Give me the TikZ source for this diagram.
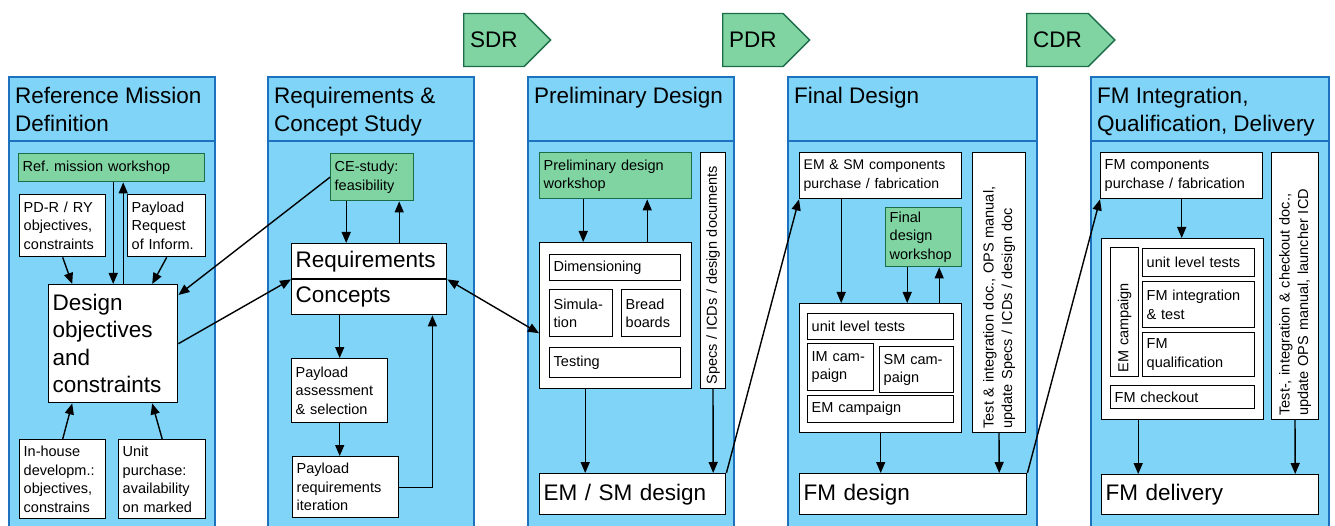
\documentclass[tikz,border=0pt]{standalone}
\usepackage{fontspec}
\usepackage{xcolor}
\setmainfont{Liberation Sans}
\usetikzlibrary{arrows.meta,shapes.symbols}
\definecolor{phasefill}{RGB}{128,212,247}
\definecolor{phaseline}{RGB}{28,114,190}
\definecolor{wsfill}{RGB}{128,212,162}
\definecolor{wsline}{RGB}{28,108,72}
\newcommand{\headfont}{\fontsize{22.5}{27.5}\selectfont}
\newcommand{\boxfont}{\fontsize{14.5}{18.5}\selectfont}

\begin{document}
\begin{tikzpicture}[x=1pt, y=-1pt,
  phase/.style={draw=phaseline, fill=phasefill, line width=1.5pt},
  phasehead/.style={anchor=north west, align=left, font=\headfont, inner xsep=6pt, inner ysep=10pt},
  box/.style 2 args={draw, fill=white, line width=1.4pt, anchor=north west, align=left, font=\boxfont, inner xsep=4pt, inner ysep=1pt, text width=#1, minimum height=#2},
  wsbox/.style 2 args={box={#1}{#2}, draw=wsline, fill=wsfill},
  bigbox/.style 2 args={box={#1}{#2}, font=\headfont},
  holder/.style 2 args={draw, fill=white, line width=1.4pt, anchor=north west, inner sep=0pt, minimum width=#1, minimum height=#2},
  vbox/.style 2 args={draw, fill=white, line width=1.4pt, rotate=90, align=left, font=\boxfont, inner xsep=4pt, inner ysep=1pt, text width=#1, minimum height=#2},
  gate/.style={signal, signal to=east, signal pointer angle=90, draw=wsline, fill=wsfill, line width=1.4pt, font=\headfont, anchor=west, inner xsep=6.5pt, minimum height=53pt},
  arr/.style={-{Triangle[length=11pt,width=9pt]}, line width=1.4pt},
  darr/.style={{Triangle[length=11pt,width=9pt]}-{Triangle[length=11pt,width=9pt]}, line width=1.4pt}]
\useasboundingbox (0,0) rectangle (1335,526);

\foreach \xa/\xb in {9/215, 268/474, 528/734, 788/1037, 1091/1329} {
  \filldraw[phase] (\xa,528) -- (\xa,77) -- (\xb,77) -- (\xb,528);
  \draw[phaseline, line width=1.5pt] (\xa,141) -- (\xb,141);
}
\foreach \g/\gx in {SDR/463, PDR/722, CDR/1026}
  \node[gate] (\g) at (\gx,40) {\g};

\node[phasehead] (h1) at (9,77) {Reference Mission\\Definition};
\node[wsbox={178pt}{28pt}] (refws) at (18,153) {Ref.\ mission workshop};
\node[box={78pt}{62pt}] (pdr) at (19,194) {PD-R / RY\\objectives,\\constraints};
\node[box={70pt}{62pt}] (plri) at (127,194) {Payload\\Request\\of Inform.};
\node[bigbox={121pt}{118pt}] (design) at (48,284) {Design\\objectives\\and\\constraints};
\node[box={78pt}{79pt}] (inhouse) at (19,439) {In-house\\developm.:\\objectives,\\constrains};
\node[box={79pt}{79pt}] (unitp) at (118,439) {Unit\\purchase:\\availability\\on marked};

\node[phasehead] (h2) at (268,77) {Requirements \&\\Concept Study};
\node[wsbox={75pt}{47pt}] (ce) at (330,153) {CE-study:\\feasibility};
\node[bigbox={147pt}{35pt}] (req) at (291,243) {Requirements};
\node[bigbox={147pt}{35pt}] (conc) at (291,279) {Concepts};
\node[box={88pt}{64pt}] (passess) at (291,358) {Payload\\assessment\\\& selection};
\node[box={98pt}{61pt}] (preqit) at (292,456) {Payload\\requirements\\iteration};

\node[phasehead] (h3) at (528,77) {Preliminary Design};
\node[wsbox={144pt}{46pt}] (pdws) at (539,152) {Preliminary design\\workshop};
\node[vbox={228pt}{25pt}] (specs) at (713,270.5) {Specs / ICDs / design documents};
\node[holder={152pt}{146pt}] (pdbox) at (539,242) {};
\node[box={123pt}{26pt}] (dim) at (549,254) {Dimensioning};
\node[box={55pt}{47pt}] (sim) at (549,289) {Simula-\\tion};
\node[box={51pt}{47pt}] (bread) at (621,289) {Bread\\boards};
\node[box={123pt}{30pt}] (test) at (549,347) {Testing};
\node[bigbox={178pt}{41pt}] (emsm) at (539,473) {EM / SM design};

\node[phasehead] (h4) at (788,77) {Final Design};
\node[box={154pt}{46pt}, font=\fontsize{14}{18.5}\selectfont] (emsmc) at (799,152) {EM \& SM components\\purchase / fabrication};
\node[wsbox={68pt}{59pt}] (fdws) at (885,207) {Final\\design\\workshop};
\node[vbox={272pt}{53pt}] (tidoc) at (999,292.5) {Test \& integration doc., OPS manual,\\update Specs / ICDs / design doc};
\node[holder={162pt}{129pt}] (fdbox) at (799,303) {};
\node[box={138pt}{26pt}] (ult1) at (807,313) {unit level tests};
\node[box={58pt}{47pt}] (imc) at (807,343) {IM cam-\\paign};
\node[box={66pt}{46pt}] (smc) at (879,346) {SM cam-\\paign};
\node[box={138pt}{27pt}] (emc) at (807,395) {EM campaign};
\node[bigbox={219pt}{41pt}] (fmd) at (799,473) {FM design};

\node[phasehead] (h5) at (1091,77) {FM Integration,\\Qualification, Delivery};
\node[box={154pt}{46pt}] (fmc) at (1100,152) {FM components\\purchase / fabrication};
\node[vbox={259pt}{47pt}] (tidoc2) at (1295,286) {Test-, integration \& checkout doc.,\\update OPS manual, launcher ICD};
\node[holder={162pt}{181pt}] (fmbox) at (1101,238) {};
\node[vbox={121pt}{28pt}] (emcv) at (1124.5,312) {EM campaign};
\node[box={104pt}{28pt}] (ult2) at (1142,248) {unit level tests};
\node[box={104pt}{46pt}] (fmit) at (1142,281) {FM integration\\\& test};
\node[box={104pt}{44pt}] (fmq) at (1142,332) {FM\\qualification};
\node[box={136pt}{23pt}] (fmco) at (1110,385) {FM checkout};
\node[bigbox={209pt}{40pt}] (fmdel) at (1101,474) {FM delivery};

\draw[arr] (pdr.south) -- ([xshift=-41pt]design.north);
\draw[arr] (plri.south) -- ([xshift=39pt]design.north);
\draw[arr] ([xshift=1.5pt]refws.south) -- (design.north);
\draw[arr] ([xshift=10pt]design.north) -- ([xshift=11.5pt]refws.south);
\draw[arr] (inhouse.north) -- ([xshift=-41pt]design.south);
\draw[arr] (unitp.north) -- ([xshift=39pt]design.south);
\draw[arr] (ce.west) -- ([yshift=-11pt]design.north east);
\draw[arr] (design.east) -- (req.south west);
\draw[darr] (req.south east) -- ([yshift=-17.5pt]pdbox.west);

\draw[arr] ([xshift=-26pt]ce.south) -- ([xshift=-23pt]req.north);
\draw[arr] ([xshift=30pt]req.north) -- ([xshift=27pt]ce.south);
\draw[arr] ([xshift=-29.5pt]conc.south) -- (passess.north);
\draw[arr] (passess.south) -- ([xshift=-6pt]preqit.north);
\draw[arr] (preqit.east) -| ([xshift=-15pt]conc.south east);

\draw[arr] ([xshift=-32.5pt]pdws.south) -- ([xshift=-32.5pt]pdbox.north);
\draw[arr] ([xshift=31.5pt]pdbox.north) -- ([xshift=31.5pt]pdws.south);
\draw[arr] ([xshift=-30.5pt]pdbox.south) -- ([xshift=-47.5pt]emsm.north);
\draw[arr] (specs.west) -- ([xshift=80.5pt]emsm.north);
\draw[arr] (emsm.north east) -- (emsmc.south west);

\draw[arr] ([xshift=-39.5pt]emsmc.south) -- ([xshift=-39.5pt]fdbox.north);
\draw[arr] ([xshift=-16.5pt]fdws.south) -- ([xshift=26.5pt]fdbox.north);
\draw[arr] ([xshift=58.5pt]fdbox.north) -- ([xshift=15.5pt]fdws.south);
\draw[arr] (fdbox.south) -- ([xshift=-32.5pt]fmd.north);
\draw[arr] (tidoc.west) -- ([xshift=86pt]fmd.north);
\draw[arr] (fmd.north east) -- (fmc.south west);

\draw[arr] (fmc.south) -- ([xshift=-1pt]fmbox.north);
\draw[arr] ([xshift=-44.5pt]fmbox.south) -- ([xshift=-72pt]fmdel.north);
\draw[arr] (tidoc2.west) -- ([xshift=85pt]fmdel.north);
\end{tikzpicture}
\end{document}
